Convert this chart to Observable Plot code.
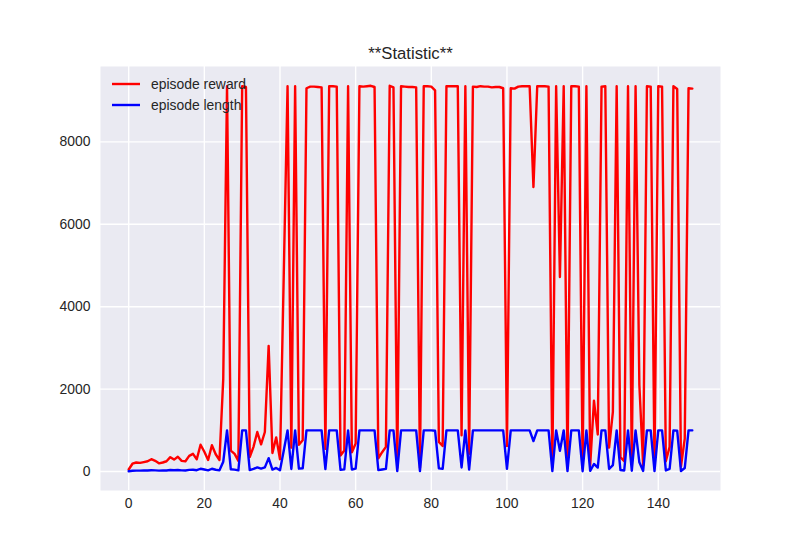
<!DOCTYPE html>
<html>
<head>
<meta charset="utf-8">
<script src="https://cdn.jsdelivr.net/npm/d3@7"></script>
<script src="https://cdn.jsdelivr.net/npm/@observablehq/plot@0.6"></script>
<style>
  html, body { margin: 0; padding: 0; background: #ffffff; }
</style>
</head>
<body>
<div id="chart"></div>
<script>
// ---- data ----
const title = "**Statistic**";
const seriesNames = ["episode reward", "episode length"];
const seriesColors = ["red", "blue"];
const xTicks = [0, 20, 40, 60, 80, 100, 120, 140];
const yTicks = [0, 2000, 4000, 6000, 8000];

const episodeReward = [
  50, 190, 220, 210, 230, 250, 300, 260, 200, 220,
  250, 350, 290, 360, 260, 250, 380, 430, 300, 650,
  480, 280, 640, 420, 280, 2250, 9350, 510, 430, 260,
  9350, 9330, 350, 600, 960, 660, 960, 3050, 450, 830,
  300, 4800, 9350, 580, 9350, 650, 760, 9300, 9340, 9340,
  9330, 9320, 550, 9350, 9350, 9340, 390, 510, 9350, 470,
  680, 9350, 9340, 9350, 9360, 9330, 320, 470, 600, 9360,
  9320, 90, 9350, 9340, 9330, 9330, 9320, 90, 9350, 9350,
  9340, 9250, 720, 620, 9350, 9350, 9350, 9350, 880, 9350,
  430, 9340, 9330, 9350, 9340, 9340, 9320, 9330, 9330, 9300,
  620, 9300, 9290, 9340, 9350, 9350, 9350, 6900, 9350, 9350,
  9350, 9340, 100, 9350, 4720, 9350, 100, 9350, 9350, 9340,
  80, 9350, 150, 1720, 900, 9340, 9350, 580, 1450, 9350,
  350, 250, 9350, 200, 9350, 2100, 150, 9350, 9340, 120,
  9350, 9340, 250, 600, 9350, 9280, 120, 800, 9300, 9290
];

const episodeLength = [
  8, 20, 22, 22, 24, 26, 32, 28, 22, 24,
  27, 37, 31, 38, 28, 27, 40, 45, 32, 68,
  50, 30, 68, 44, 30, 240, 1000, 55, 46, 28,
  1000, 1000, 37, 64, 102, 70, 102, 325, 48, 88,
  32, 510, 1000, 62, 1000, 70, 80, 1000, 1000, 1000,
  1000, 1000, 59, 1000, 1000, 1000, 42, 54, 1000, 50,
  72, 1000, 1000, 1000, 1000, 1000, 34, 50, 64, 1000,
  1000, 10, 1000, 1000, 1000, 1000, 1000, 10, 1000, 1000,
  1000, 990, 77, 66, 1000, 1000, 1000, 1000, 100, 1000,
  46, 1000, 1000, 1000, 1000, 1000, 1000, 1000, 1000, 1000,
  66, 1000, 1000, 1000, 1000, 1000, 1000, 740, 1000, 1000,
  1000, 1000, 11, 1000, 505, 1000, 11, 1000, 1000, 1000,
  9, 1000, 16, 184, 96, 1000, 1000, 62, 155, 1000,
  37, 27, 1000, 21, 1000, 225, 16, 1000, 1000, 13,
  1000, 1000, 27, 64, 1000, 993, 13, 86, 1000, 1000
];

// ---- build table for Plot ----
const episodes = d3.range(episodeReward.length);
const table = [
  ...episodes.map(i => ({episode: i, value: episodeReward[i], series: seriesNames[0]})),
  ...episodes.map(i => ({episode: i, value: episodeLength[i], series: seriesNames[1]}))
];

// matplotlib-like 5% auto margins
function padded(extent) {
  const r = extent[1] - extent[0];
  return [extent[0] - 0.05 * r, extent[1] + 0.05 * r];
}
const xDomain = padded(d3.extent(episodes));
const yDomain = padded(d3.extent(table, d => d.value));

const textColor = "#262626";
const fontFamily = "'Liberation Sans', Arial, sans-serif";

function legendMark(index, scales, values, dims) {
  const g = d3.create("svg:g").attr("font-family", fontFamily);
  seriesNames.forEach((name, k) => {
    const y = dims.marginTop + 18 + k * 21;
    g.append("line")
      .attr("x1", dims.marginLeft + 12).attr("x2", dims.marginLeft + 40)
      .attr("y1", y).attr("y2", y)
      .attr("stroke", seriesColors[k]).attr("stroke-width", 2.4);
    g.append("text")
      .attr("x", dims.marginLeft + 51).attr("y", y).attr("dy", "0.35em")
      .attr("text-anchor", "start")
      .attr("fill", textColor).attr("font-size", 13.9)
      .text(name);
  });
  return g.node();
}

const chart = Plot.plot({
  width: 800,
  height: 550,
  marginLeft: 100,
  marginRight: 80,
  marginTop: 66,
  marginBottom: 60,
  style: {fontFamily, fontSize: "13.9px", color: textColor, background: "#ffffff"},
  x: {domain: xDomain, label: null},
  y: {domain: yDomain, label: null},
  color: {domain: seriesNames, range: seriesColors},
  marks: [
    Plot.frame({fill: "#EAEAF2", stroke: null}),
    Plot.gridX(xTicks, {stroke: "#ffffff", strokeOpacity: 1, strokeWidth: 1.4}),
    Plot.gridY(yTicks, {stroke: "#ffffff", strokeOpacity: 1, strokeWidth: 1.4}),
    Plot.axisX(xTicks, {tickSize: 0, tickPadding: 8, label: null, fontSize: 13.9, fill: textColor, tickFormat: d => String(d)}),
    Plot.axisY(yTicks, {tickSize: 0, tickPadding: 10, label: null, fontSize: 13.9, fill: textColor, tickFormat: d => String(d)}),
    Plot.line(table, {x: "episode", y: "value", z: "series", stroke: "series", strokeWidth: 2.4, strokeLinejoin: "round"}),
    Plot.text([title], {frameAnchor: "top", dy: -8, lineAnchor: "bottom", fontSize: 16.7, fill: textColor}),
    legendMark
  ]
});

document.getElementById("chart").appendChild(chart);
</script>
</body>
</html>
